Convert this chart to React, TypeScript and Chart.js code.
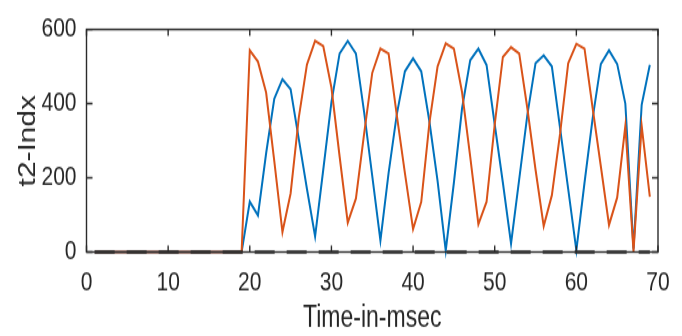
import React, { useEffect, useRef } from "react";
import { Chart, registerables } from "chart.js";

Chart.register(...registerables);

const timeMs = [
  1, 2, 3, 4, 5, 6, 7, 8, 9, 10, 11, 12, 13, 14, 15, 16, 17, 18, 19, 20,
  21, 22, 23, 24, 25, 26, 27, 28, 29, 30, 31, 32, 33, 34, 35, 36, 37, 38, 39, 40,
  41, 42, 43, 44, 45, 46, 47, 48, 49, 50, 51, 52, 53, 54, 55, 56, 57, 58, 59, 60,
  61, 62, 63, 64, 65, 66, 67, 68, 69,
];

const blueSeries = [
  0, 0, 0, 0, 0, 0, 0, 0, 0, 0, 0, 0, 0, 0, 0, 0, 0, 0, 0, 136,
  99, 266, 413, 466, 439, 305, 170, 42, 222, 404, 535, 569, 535, 378, 205, 31, 213, 370, 487, 522,
  487, 352, 192, 4, 187, 387, 517, 548, 504, 344, 187, 23, 196, 370, 509, 530, 500, 335, 170, 5,
  187, 361, 507, 544, 507, 400, 8, 397, 505,
];

const orangeSeries = [
  0, 0, 0, 0, 0, 0, 0, 0, 0, 0, 0, 0, 0, 0, 0, 0, 0, 0, 0, 544,
  513, 430, 245, 54, 158, 362, 505, 569, 555, 443, 258, 79, 144, 318, 483, 548, 535, 370, 213, 62,
  135, 348, 500, 562, 548, 431, 257, 75, 135, 344, 526, 552, 535, 387, 222, 70, 153, 318, 509, 561,
  548, 387, 231, 73, 147, 340, 2, 340, 149,
];

const baseSeries = [
  0, 0, 0, 0, 0, 0, 0, 0, 0, 0, 0, 0, 0, 0, 0, 0, 0, 0, 0, 0,
  0, 0, 0, 0, 0, 0, 0, 0, 0, 0, 0, 0, 0, 0, 0, 0, 0, 0, 0, 0,
  0, 0, 0, 0, 0, 0, 0, 0, 0, 0, 0, 0, 0, 0, 0, 0, 0, 0, 0, 0,
  0, 0, 0, 0, 0, 0, 0, 0, 0,
];

const xTicks = [0, 10, 20, 30, 40, 50, 60, 70];
const yTicks = [0, 200, 400, 600];

const FONT = "'Liberation Sans', Arial, sans-serif";
const TEXT = "#262626";

// the reference picture is stretched vertically; draw at a shorter internal height
const W = 682;
const H_CSS = 336;
const H = 258;
const K = H_CSS / H;

const boxPlugin = {
  id: "matlabBox",
  afterDatasetsDraw(chart: any) {
    const { ctx, chartArea, scales } = chart;
    const { left, right, top, bottom } = chartArea;
    const x = scales.x;
    const y = scales.y;
    ctx.save();
    ctx.strokeStyle = "#2b2b2b";
    ctx.lineWidth = 1.4;
    ctx.strokeRect(left, top, right - left, bottom - top);
    const LX = 5;
    const LY = 6;
    ctx.beginPath();
    x.ticks.forEach((t: any) => {
      const px = x.getPixelForValue(t.value);
      ctx.moveTo(px, bottom);
      ctx.lineTo(px, bottom - LX);
      ctx.moveTo(px, top);
      ctx.lineTo(px, top + LX);
    });
    y.ticks.forEach((t: any) => {
      const py = y.getPixelForValue(t.value);
      ctx.moveTo(left, py);
      ctx.lineTo(left + LY, py);
      ctx.moveTo(right, py);
      ctx.lineTo(right - LY, py);
    });
    ctx.stroke();
    ctx.restore();
  },
};

export default function App() {
  const ref = useRef<HTMLCanvasElement | null>(null);

  useEffect(() => {
    document.body.style.margin = "0";
    const canvas = ref.current;
    if (!canvas) return;
    const toPts = (arr: number[]) => arr.map((v, i) => ({ x: timeMs[i], y: v }));
    const chart = new Chart(canvas, {
      type: "line",
      data: {
        datasets: [
          {
            label: "base",
            data: toPts(baseSeries),
            borderColor: "#2a2a2a",
            borderWidth: 2.6,
            borderDash: [20, 12],
            pointRadius: 0,
            clip: false as any,
          },
          {
            label: "t2 B",
            data: toPts(orangeSeries),
            borderColor: "#D95319",
            borderWidth: 2,
            pointRadius: 0,
            tension: 0,
            clip: false as any,
          },
          {
            label: "t2 A",
            data: toPts(blueSeries),
            borderColor: "#0072BD",
            borderWidth: 2,
            pointRadius: 0,
            tension: 0,
            clip: false as any,
          },
        ],
      },
      options: {
        responsive: false,
        animation: false,
        maintainAspectRatio: false,
        layout: { padding: { top: 21.7 / K, right: 24, bottom: 0, left: 0 } },
        plugins: {
          legend: { display: false },
          tooltip: { enabled: false },
          title: { display: false },
        },
        scales: {
          x: {
            type: "linear",
            min: 0,
            max: 70,
            afterBuildTicks: (s: any) => {
              s.ticks = xTicks.map((v) => ({ value: v }));
            },
            afterFit: (s: any) => {
              s.height = (H_CSS - 252) / K;
            },
            grid: { display: false, drawTicks: false },
            border: { display: false },
            ticks: {
              color: TEXT,
              padding: 11,
              maxRotation: 0,
              font: { family: FONT, size: 21 },
            },
            title: {
              display: true,
              text: "Time-in-msec",
              color: TEXT,
              font: { family: FONT, size: 23 },
              padding: { top: 0, bottom: 0 },
            },
          },
          y: {
            type: "linear",
            min: 0,
            max: 600,
            afterBuildTicks: (s: any) => {
              s.ticks = yTicks.map((v) => ({ value: v }));
            },
            afterFit: (s: any) => {
              s.width = 86.5;
            },
            grid: { display: false, drawTicks: false },
            border: { display: false },
            ticks: {
              color: TEXT,
              padding: 10,
              font: { family: FONT, size: 21 },
            },
            title: {
              display: true,
              text: "t2-Indx",
              color: TEXT,
              font: { family: FONT, size: 23 },
              padding: { top: 15, bottom: 0 },
            },
          },
        },
      },
      plugins: [boxPlugin],
    });
    return () => chart.destroy();
  }, []);

  return (
    <div style={{ position: "fixed", left: 0, top: 0, width: W, height: H_CSS, background: "#fff" }}>
      <canvas ref={ref} width={W} height={H} style={{ width: W, height: H_CSS, display: "block" }} />
    </div>
  );
}
